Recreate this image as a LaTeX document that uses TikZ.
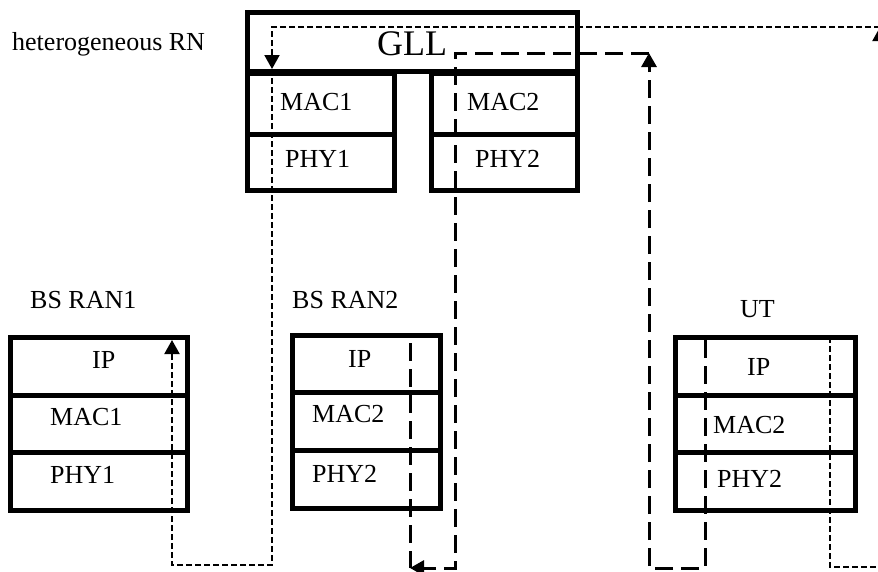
\documentclass[tikz,border=0pt]{standalone}
\usepackage{fontspec}
\setmainfont{Liberation Serif}
\usetikzlibrary{arrows.meta}

\begin{document}
\begin{tikzpicture}[x=1pt,y=-1pt,
  lay/.style={draw,line width=5pt,rectangle,anchor=north west,inner sep=0pt,outer sep=0pt},
  txt/.style={anchor=base west,inner sep=0pt,font=\fontsize{26}{30}\selectfont},
  dots/.style={line width=2pt,dash pattern=on 6pt off 3pt},
  dashes/.style={line width=3pt,dash pattern=on 18pt off 8pt},
  tip/.style={-{Triangle[width=15pt,length=14pt]}}]
\useasboundingbox (0,0) rectangle (878,571);
% relay node
\node[txt] (rnname) at (12,50) {heterogeneous RN};
\node[lay,minimum width=330pt,minimum height=59pt] (gll) at (247,12) {};
\node[txt,anchor=base,font=\fontsize{36}{40}\selectfont] (glltxt) at (412,55) {GLL};
\node[lay,minimum width=147pt,minimum height=61pt] (rnmaca) at (247,73) {};
\node[lay,minimum width=147pt,minimum height=56pt] (rnphya) at (247,134) {};
\node[lay,minimum width=146pt,minimum height=61pt] (rnmacb) at (431,73) {};
\node[lay,minimum width=146pt,minimum height=56pt] (rnphyb) at (431,134) {};
\node[txt] (rnmacat) at (280,110) {MAC1};
\node[txt] (rnphyat) at (285,167) {PHY1};
\node[txt] (rnmacbt) at (467,110) {MAC2};
\node[txt] (rnphybt) at (475,167) {PHY2};
% BS RAN1
\node[txt] (bsaname) at (30,308) {BS RAN1};
\node[lay,minimum width=177pt,minimum height=58pt] (bsaip) at (10,337) {};
\node[lay,minimum width=177pt,minimum height=57pt] (bsamac) at (10,395) {};
\node[lay,minimum width=177pt,minimum height=58pt] (bsaphy) at (10,452) {};
\node[txt] (bsaipt) at (92,368) {IP};
\node[txt] (bsamact) at (50,425) {MAC1};
\node[txt] (bsaphyt) at (50,483) {PHY1};
% BS RAN2
\node[txt] (bsbname) at (292,308) {BS RAN2};
\node[lay,minimum width=148pt,minimum height=57pt] (bsbip) at (292,335) {};
\node[lay,minimum width=148pt,minimum height=58pt] (bsbmac) at (292,392) {};
\node[lay,minimum width=148pt,minimum height=58pt] (bsbphy) at (292,450) {};
\node[txt] (bsbipt) at (348,367) {IP};
\node[txt] (bsbmact) at (312,422) {MAC2};
\node[txt] (bsbphyt) at (312,482) {PHY2};
% UT
\node[txt] (utname) at (740,317) {UT};
\node[lay,minimum width=180pt,minimum height=58pt] (utip) at (675,337) {};
\node[lay,minimum width=180pt,minimum height=57pt] (utmac) at (675,395) {};
\node[lay,minimum width=180pt,minimum height=58pt] (utphy) at (675,452) {};
\node[txt] (utipt) at (747,375) {IP};
\node[txt] (utmact) at (713,433) {MAC2};
\node[txt] (utphyt) at (717,487) {PHY2};
% short dashes: UT -> RN -> BS RAN1
\coordinate (utd) at (830,337);
\coordinate (rtb) at (880,567);
\coordinate (rtt) at (880,27);
\coordinate (glld) at (272,69);
\coordinate (lowa) at (272,565);
\coordinate (bsad) at (172,340);
\draw[dots,tip] (utd) |- (rtb) -- (rtt);
\draw[dots,tip] (rtt) -| (glld);
\draw[dots,tip] (glld) -- (lowa) -| (bsad);
% long dashes: UT -> RN -> BS RAN2
\coordinate (utl) at (705,340);
\coordinate (mdb) at (649,568);
\coordinate (mdt) at (649,53);
\coordinate (lowb) at (455,568);
\coordinate (bsbl) at (410,568);
\coordinate (bsbt) at (410,343);
\draw[dashes,tip] (utl) |- (mdb) -- (mdt);
\draw[dashes,tip] (mdt) -| (lowb) -- (bsbl);
\draw[dashes] (bsbt) -- (bsbl);
\end{tikzpicture}
\end{document}
